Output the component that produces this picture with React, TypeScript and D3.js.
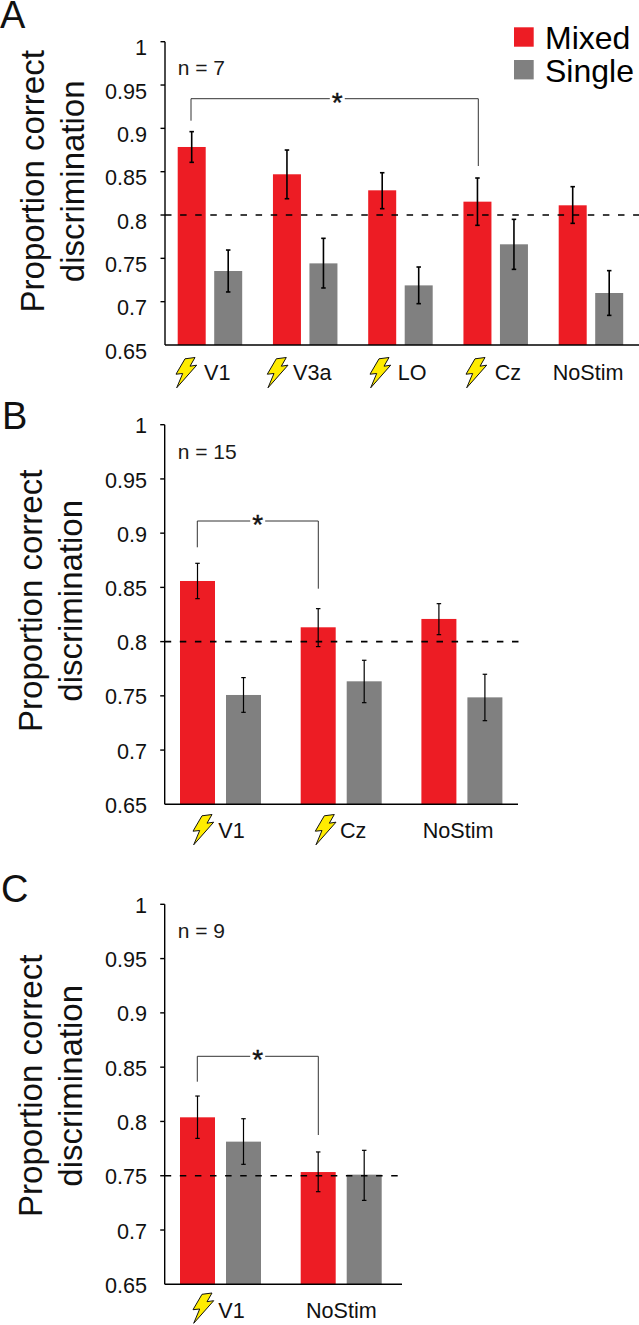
import React from "react";
import * as d3 from "d3";

const FONT = "'Liberation Sans', Arial, sans-serif";
const RED = "#ED1C24";
const GRAY = "#808080";

const seriesNames = ["Mixed", "Single"];
const yTicks = [1, 0.95, 0.9, 0.85, 0.8, 0.75, 0.7, 0.65];

const catsA = ["V1", "V3a", "LO", "Cz", "NoStim"];
const mixedA = [0.8785, 0.847, 0.8285, 0.8154, 0.8112];
const singleA = [0.7354, 0.7442, 0.7188, 0.7662, 0.71];
const mixedHiA = [0.8962, 0.875, 0.8488, 0.8427, 0.8327];
const mixedLoA = [0.8608, 0.8188, 0.8073, 0.7881, 0.7904];
const singleHiA = [0.7596, 0.7731, 0.74, 0.795, 0.7358];
const singleLoA = [0.7112, 0.7158, 0.6977, 0.7373, 0.6842];

const catsB = ["V1", "Cz", "NoStim"];
const mixedB = [0.8559, 0.8132, 0.8209];
const singleB = [0.7508, 0.7634, 0.7486];
const mixedHiB = [0.8722, 0.8304, 0.835];
const mixedLoB = [0.8396, 0.7954, 0.8064];
const singleHiB = [0.7668, 0.7828, 0.7699];
const singleLoB = [0.7348, 0.7437, 0.7271];

const catsC = ["V1", "NoStim"];
const mixedC = [0.8038, 0.7534];
const singleC = [0.7814, 0.751];
const mixedHiC = [0.8234, 0.7719];
const mixedLoC = [0.7844, 0.7353];
const singleHiC = [0.8025, 0.7734];
const singleLoC = [0.7605, 0.7273];

const boltShape: [number, number][] = [[9, 1.3], [19, 0], [14, 8.7], [20.7, 7.7], [0.7, 30.3], [6.7, 16], [0, 16.7]];

type PanelCfg = {
  letter: string; letterX: number; letterY: number;
  n: string; nY: number;
  cats: string[]; mixed: number[]; single: number[];
  mixedHi: number[]; mixedLo: number[]; singleHi: number[]; singleLo: number[];
  top: number; bottom: number; axisX: number; axisEnd: number; dashEnd: number;
  x0: number; step: number; barW: number; gap: number;
  tickDy: number; titleY: number; titleX1: number; titleX2: number;
  ref: number; capW: number; errW: number;
  labelY: number; labelX: number[]; boltX: (number | null)[]; boltY: number;
  brY: number; brX1: number; brX2: number; brL: number; brR: number; starX: number; starGap: number;
};

const panels: PanelCfg[] = [
  {
    letter: "A", letterX: 0, letterY: 28, n: "n = 7", nY: 75,
    cats: catsA, mixed: mixedA, single: singleA, mixedHi: mixedHiA, mixedLo: mixedLoA, singleHi: singleHiA, singleLo: singleLoA,
    top: 41.7, bottom: 345, axisX: 165, axisEnd: 639, dashEnd: 639,
    x0: 177.7, step: 95.25, barW: 28, gap: 8.5,
    tickDy: 6, titleY: 181.3, titleX1: 44, titleX2: 83.5, ref: 0.8, capW: 4.5, errW: 1.6,
    labelY: 380, labelX: [204, 293, 397.7, 494.7, 552.7], boltX: [176, 267.3, 370, 466, null], boltY: 357.5,
    brY: 98.7, brX1: 191, brX2: 478.3, brL: 120.7, brR: 166, starX: 337.3, starGap: 7.5,
  },
  {
    letter: "B", letterX: 2, letterY: 429, n: "n = 15", nY: 459,
    cats: catsB, mixed: mixedB, single: singleB, mixedHi: mixedHiB, mixedLo: mixedLoB, singleHi: singleHiB, singleLo: singleLoB,
    top: 424.7, bottom: 804.3, axisX: 164.7, axisEnd: 518, dashEnd: 519,
    x0: 180, step: 120.7, barW: 35, gap: 11,
    tickDy: 1, titleY: 600.8, titleX1: 42.3, titleX2: 82.3, ref: 0.8, capW: 4.5, errW: 1.2,
    labelY: 838, labelX: [218.3, 340, 422.7], boltX: [193, 315.3, null], boltY: 814.5,
    brY: 521, brX1: 197.3, brX2: 318.3, brL: 547.3, brR: 588.7, starX: 257.7, starGap: 7.5,
  },
  {
    letter: "C", letterX: 1, letterY: 902, n: "n = 9", nY: 938,
    cats: catsC, mixed: mixedC, single: singleC, mixedHi: mixedHiC, mixedLo: mixedLoC, singleHi: singleHiC, singleLo: singleLoC,
    top: 904.3, bottom: 1284.3, axisX: 164.7, axisEnd: 402, dashEnd: 398,
    x0: 180, step: 120.7, barW: 35, gap: 11,
    tickDy: 1, titleY: 1085.8, titleX1: 42.3, titleX2: 82.3, ref: 0.75, capW: 4.5, errW: 1.2,
    labelY: 1317.7, labelX: [218.3, 306], boltX: [193, null], boltY: 1293,
    brY: 1056.3, brX1: 197.3, brX2: 318.3, brL: 1081.7, brR: 1135, starX: 257.7, starGap: 7.5,
  },
];

function Panel({ p }: { p: PanelCfg }) {
  const y = d3.scaleLinear().domain([0.65, 1]).range([p.bottom, p.top]);
  const x = d3.scaleBand<string>().domain(p.cats).range([p.x0, p.x0 + p.step * p.cats.length]).padding(0).align(0);
  const inner = d3.scaleBand<string>().domain(seriesNames).range([0, p.barW * 2 + p.gap]).paddingInner(p.gap / (p.barW + p.gap)).paddingOuter(0);
  const bolt = d3.line().curve(d3.curveLinearClosed);
  const sets = [
    { name: "Mixed", vals: p.mixed, hi: p.mixedHi, lo: p.mixedLo, color: RED },
    { name: "Single", vals: p.single, hi: p.singleHi, lo: p.singleLo, color: GRAY },
  ];
  return (
    <g fontFamily={FONT} fill="#000">
      <text x={p.letterX} y={p.letterY} fontSize={38} fill="#111">{p.letter}</text>
      <text x={177.7} y={p.nY} fontSize={21} fill="#1a1a1a">{p.n}</text>
      {[["Proportion correct", p.titleX1], ["discrimination", p.titleX2]].map(([t, bx]) => (
        <text key={t as string} transform={`translate(${bx},${p.titleY}) rotate(-90)`} textAnchor="middle" fontSize={33} fill="#111">{t}</text>
      ))}
      {sets.map((s) =>
        s.vals.map((v, i) => (
          <rect key={s.name + i} x={x(p.cats[i])! + inner(s.name)!} y={y(v)} width={inner.bandwidth()} height={p.bottom - y(v)} fill={s.color} />
        ))
      )}
      <line x1={p.axisX} x2={p.dashEnd} y1={y(p.ref)} y2={y(p.ref)} stroke="#000" strokeWidth={1.7} strokeDasharray="6.5 8.6" />
      {sets.map((s) =>
        s.vals.map((_, i) => {
          const cx = x(p.cats[i])! + inner(s.name)! + inner.bandwidth() / 2;
          return (
            <g key={s.name + i} stroke="#000" strokeWidth={p.errW} fill="none">
              <line x1={cx} x2={cx} y1={y(s.hi[i])} y2={y(s.lo[i])} />
              <line x1={cx - p.capW / 2} x2={cx + p.capW / 2} y1={y(s.hi[i])} y2={y(s.hi[i])} />
              <line x1={cx - p.capW / 2} x2={cx + p.capW / 2} y1={y(s.lo[i])} y2={y(s.lo[i])} />
            </g>
          );
        })
      )}
      <line x1={p.axisX} x2={p.axisX} y1={p.top} y2={p.bottom} stroke="#000" strokeWidth={1.4} />
      <line x1={p.axisX} x2={p.axisEnd} y1={p.bottom} y2={p.bottom} stroke="#000" strokeWidth={1.4} />
      {yTicks.map((t) => (
        <g key={t}>
          {t > 0.65 && <line x1={p.axisX - 4.5} x2={p.axisX} y1={y(t)} y2={y(t)} stroke="#000" strokeWidth={1.4} />}
          <text x={147} y={y(t) + p.tickDy + 7.6} textAnchor="end" fontSize={21.6} fill="#111">{t}</text>
        </g>
      ))}
      {p.cats.map((c, i) => (
        <text key={c} x={p.labelX[i]} y={p.labelY} fontSize={21.6} fill="#111">{c}</text>
      ))}
      {p.boltX.map((bx, i) =>
        bx === null ? null : (
          <path key={i} transform={`translate(${bx},${p.boltY})`} d={bolt(boltShape) as string} fill="#FFEC00" stroke="#111" strokeWidth={1} strokeLinejoin="miter" />
        )
      )}
      <path
        d={`M${p.brX1},${p.brL}V${p.brY}H${p.starX - p.starGap}M${p.starX + p.starGap},${p.brY}H${p.brX2}V${p.brR}`}
        fill="none" stroke="#333" strokeWidth={1}
      />
      <text x={p.starX} y={p.brY + 13} textAnchor="middle" fontSize={28} fill="#111" stroke="#111" strokeWidth={0.4}>*</text>
    </g>
  );
}

export default function App() {
  return (
    <svg width={639} height={1325} viewBox="0 0 639 1325" style={{ position: "absolute", left: 0, top: 0, background: "#fff" }}>
      {panels.map((p) => <Panel key={p.letter} p={p} />)}
      <g fontFamily={FONT} fontSize={32} fill="#000">
        {seriesNames.map((s, i) => (
          <g key={s}>
            <rect x={514} y={27.3 + i * 32.7} width={19.7} height={19.4} fill={i === 0 ? RED : GRAY} />
            <text x={545} y={48.7 + i * 33.3}>{s}</text>
          </g>
        ))}
      </g>
    </svg>
  );
}
